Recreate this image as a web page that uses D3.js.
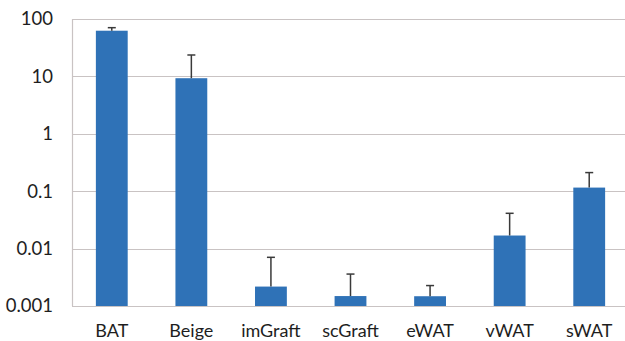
<!DOCTYPE html>
<html>
<head>
<meta charset="utf-8">
<script src="https://cdn.jsdelivr.net/npm/d3@7"></script>
<style>
  html, body { margin: 0; padding: 0; background: #fff; }
  svg { display: block; }
</style>
</head>
<body>
<svg id="chart" width="625" height="341"></svg>
<script>
// Tissue categories, mean values and upper error values (log scale)
const categories = ["BAT", "Beige", "imGraft", "scGraft", "eWAT", "vWAT", "sWAT"];
const means = [62.5, 9.3, 0.00218, 0.00149, 0.00148, 0.0169, 0.1156];
const errorTops = [70.6, 23.6, 0.00705, 0.0036, 0.00227, 0.0412, 0.211];
const tickValues = [0.001, 0.01, 0.1, 1, 10, 100];
const tickLabels = ["0.001", "0.01", "0.1", "1", "10", "100"];

const svg = d3.select("#chart");
const plotLeft = 72, plotRight = 629, plotTop = 19, plotBottom = 306;

const x = d3.scaleBand().domain(categories).range([plotLeft, plotRight]).paddingInner(0.6).paddingOuter(0.3);
const y = d3.scaleLog().domain([0.001, 100]).range([plotBottom, plotTop]);

const font = "Lato, 'Open Sans', sans-serif";
const gridColor = "#c9c3c3";

// horizontal gridlines
svg.append("g").selectAll("line").data(tickValues).join("line")
  .attr("x1", plotLeft).attr("x2", 625)
  .attr("y1", d => Math.round(y(d)) + 0.5).attr("y2", d => Math.round(y(d)) + 0.5)
  .attr("stroke", gridColor).attr("stroke-width", 1.2);

// left axis line
svg.append("line")
  .attr("x1", plotLeft + 0.5).attr("x2", plotLeft + 0.5)
  .attr("y1", plotTop).attr("y2", plotBottom)
  .attr("stroke", gridColor).attr("stroke-width", 1.2);

// y tick labels
svg.append("g").selectAll("text").data(tickValues).join("text")
  .attr("x", 53).attr("y", d => y(d))
  .attr("dy", "0.35em")
  .attr("text-anchor", "end")
  .attr("font-family", font).attr("font-size", 18.5).attr("fill", "#1e1e1e")
  .text((d, i) => tickLabels[i]);

// bars
const bw = x.bandwidth();
svg.append("g").selectAll("rect").data(categories).join("rect")
  .attr("x", d => x(d))
  .attr("y", (d, i) => y(means[i]))
  .attr("width", bw)
  .attr("height", (d, i) => plotBottom - y(means[i]))
  .attr("fill", "#2f72b7");

// error bars
const eg = svg.append("g").attr("stroke", "#3a3a3a").attr("stroke-width", 1.5);
categories.forEach((c, i) => {
  const cx = x(c) + bw / 2;
  eg.append("line").attr("x1", cx).attr("x2", cx)
    .attr("y1", y(means[i])).attr("y2", y(errorTops[i]));
  eg.append("line").attr("x1", cx - 4).attr("x2", cx + 4)
    .attr("y1", y(errorTops[i])).attr("y2", y(errorTops[i]));
});

// x category labels
svg.append("g").selectAll("text").data(categories).join("text")
  .attr("x", d => x(d) + bw / 2).attr("y", 337)
  .attr("text-anchor", "middle")
  .attr("font-family", font).attr("font-size", 18).attr("fill", "#1e1e1e")
  .text(d => d);
</script>
</body>
</html>
